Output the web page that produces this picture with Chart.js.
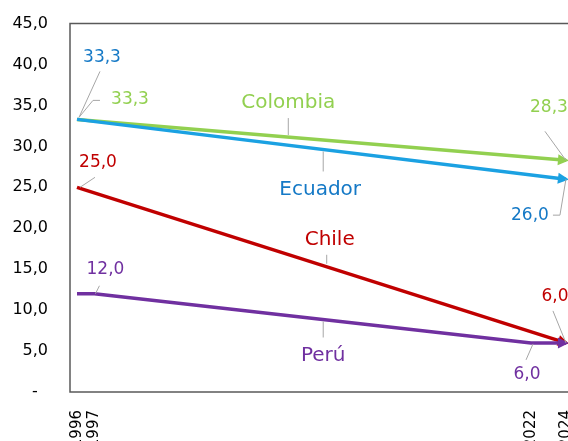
<!DOCTYPE html>
<html>
<head>
<meta charset="utf-8">
<script src="https://cdn.jsdelivr.net/npm/chart.js@4"></script>
<style>
  html, body { margin: 0; padding: 0; background: #fff; overflow: hidden; }
  #wrap { width: 610px; height: 441px; }
</style>
</head>
<body>
<div id="wrap"><canvas id="chartCanvas" width="610" height="441"></canvas></div>
<script>
// data
const years = [1996, 1997, 2022, 2024];
const colombia = [33.3, null, null, 28.3];
const ecuador = [33.3, null, null, 26.0];
const chile = [25.0, null, null, 6.0];
const peru = [12.0, 12.0, 6.0, 6.0];
const yTicks = [0, 5, 10, 15, 20, 25, 30, 35, 40, 45];

const fmt = v => v.toFixed(1).replace('.', ',');

// label placement (pixel offsets from the point they belong to)
const series = [
  {
    name: 'Perú', values: peru, line: '#7030A0', text: '#7030A0', order: 0,
    nameAt: { x: 2010.1, dx: 0, dy: 36, lead: [2, 18] },
    labels: [
      { i: 1, dx: 11, dy: -24, path: [[1, 0], [5, -8]] },
      { i: 2, dx: -4, dy: 32, path: [[2, 1], [-5, 17]] }
    ]
  },
  {
    name: 'Ecuador', values: ecuador, line: '#1BA1E2', text: '#1579C6', order: 1,
    nameAt: { x: 2010.1, dx: -3, dy: 40, lead: [2, 22] },
    labels: [
      { i: 0, dx: 25, dy: -62, path: [[2, -2], [23, -48]] },
      { i: 3, dx: -36, dy: 36, path: [[0, 0], [-6, 36], [-13, 36]] }
    ]
  },
  {
    name: 'Colombia', values: colombia, line: '#92D050', text: '#92D050', order: 2,
    nameAt: { x: 2008.1, dx: 0, dy: -34, lead: [-2, -19] },
    labels: [
      { i: 0, dx: 53, dy: -20, path: [[2, -2], [16, -19], [23, -19]] },
      { i: 3, dx: -17, dy: -53, path: [[0, 0], [-21, -29]] }
    ]
  },
  {
    name: 'Chile', values: chile, line: '#C00000', text: '#C00000', order: 3,
    nameAt: { x: 2010.3, dx: 3, dy: -27, lead: [-3, -12] },
    labels: [
      { i: 0, dx: 21, dy: -25, path: [[3, 0], [18, -10]] },
      { i: 3, dx: -11, dy: -46, path: [[0, 0], [-13, -32]] }
    ]
  }
];

function valueAt(s, yr) {
  const pts = years.map((y, i) => ({ x: y, v: s.values[i] })).filter(p => p.v !== null);
  for (let k = 0; k < pts.length - 1; k++) {
    if (yr >= pts[k].x && yr <= pts[k + 1].x) {
      const t = (yr - pts[k].x) / (pts[k + 1].x - pts[k].x);
      return pts[k].v + t * (pts[k + 1].v - pts[k].v);
    }
  }
  return pts[pts.length - 1].v;
}

const decorPlugin = {
  id: 'decor',
  afterDatasetDraw(chart, args) {
    const ctx = chart.ctx;
    const pts = args.meta.data.filter(p => !p.skip);
    const s = series[args.index];
    const a = pts[pts.length - 1], b = pts[pts.length - 2];
    const ang = Math.atan2(a.y - b.y, a.x - b.x);
    const tipX = a.x + 3 * Math.cos(ang), tipY = a.y + 3 * Math.sin(ang);
    ctx.save();
    ctx.translate(tipX, tipY);
    ctx.rotate(ang);
    ctx.fillStyle = s.line;
    ctx.beginPath();
    ctx.moveTo(0, 0);
    ctx.lineTo(-11, -5.5);
    ctx.lineTo(-11, 5.5);
    ctx.closePath();
    ctx.fill();
    ctx.restore();
  },
  afterDraw(chart) {
    const ctx = chart.ctx;
    const xs = chart.scales.x, ys = chart.scales.y;
    const area = chart.chartArea;
    ctx.save();
    // plot frame
    ctx.strokeStyle = '#595959';
    ctx.lineWidth = 1.5;
    ctx.beginPath();
    ctx.moveTo(area.right, area.top);
    ctx.lineTo(area.left, area.top);
    ctx.lineTo(area.left, area.bottom);
    ctx.lineTo(area.right, area.bottom);
    ctx.stroke();

    ctx.textAlign = 'center';
    ctx.textBaseline = 'middle';
    series.forEach(s => {
      // value labels with leader lines
      s.labels.forEach(l => {
        const px = xs.getPixelForValue(years[l.i]);
        const py = ys.getPixelForValue(s.values[l.i]);
        ctx.strokeStyle = '#A6A6A6';
        ctx.lineWidth = 1;
        ctx.beginPath();
        l.path.forEach((p, k) => {
          if (k === 0) ctx.moveTo(px + p[0], py + p[1]);
          else ctx.lineTo(px + p[0], py + p[1]);
        });
        ctx.stroke();
        ctx.fillStyle = s.text;
        ctx.font = '17px "DejaVu Sans"';
        ctx.fillText(fmt(s.values[l.i]), px + l.dx, py + l.dy);
      });
      // series name with leader
      const n = s.nameAt;
      const nx = xs.getPixelForValue(n.x);
      const ny = ys.getPixelForValue(valueAt(s, n.x));
      ctx.strokeStyle = '#A6A6A6';
      ctx.lineWidth = 1;
      ctx.beginPath();
      ctx.moveTo(nx, ny + n.lead[0]);
      ctx.lineTo(nx, ny + n.lead[1]);
      ctx.stroke();
      ctx.fillStyle = s.text;
      ctx.font = '20px "DejaVu Sans"';
      ctx.fillText(s.name, nx + n.dx, ny + n.dy);
    });
    ctx.restore();
  }
};

const datasets = series.map(s => ({
  label: s.name,
  data: years.map((y, i) => ({ x: y, y: s.values[i] })),
  borderColor: s.line,
  backgroundColor: s.line,
  borderWidth: 3.5,
  pointRadius: 0,
  spanGaps: true,
  fill: false,
  order: s.order
}));

const ctx = document.getElementById('chartCanvas').getContext('2d');
const chart = new Chart(ctx, {
  type: 'line',
  data: { datasets: datasets },
  options: {
    responsive: false,
    animation: false,
    layout: { padding: { top: 17, right: 10, left: 0, bottom: 0 } },
    plugins: {
      legend: { display: false },
      tooltip: { enabled: false }
    },
    scales: {
      x: {
        type: 'linear',
        min: 1995.6,
        max: 2025.95,
        afterBuildTicks: scale => { scale.ticks = years.map(v => ({ value: v })); },
        afterFit: scale => { scale.height = 49; },
        grid: { display: false },
        border: { display: false },
        ticks: {
          autoSkip: false,
          minRotation: 90,
          maxRotation: 90,
          padding: 10,
          color: '#000',
          font: { family: 'DejaVu Sans', size: 15 },
          callback: v => String(v)
        }
      },
      y: {
        min: 0,
        max: 45,
        afterBuildTicks: scale => { scale.ticks = yTicks.map(v => ({ value: v })); },
        afterFit: scale => { scale.width = 70; },
        grid: { display: false },
        border: { display: false },
        ticks: {
          padding: 14,
          color: '#000',
          font: { family: 'DejaVu Sans', size: 16 },
          callback: v => v === 0 ? '-  ' : fmt(v)
        }
      }
    }
  },
  plugins: [decorPlugin]
});
</script>
</body>
</html>
